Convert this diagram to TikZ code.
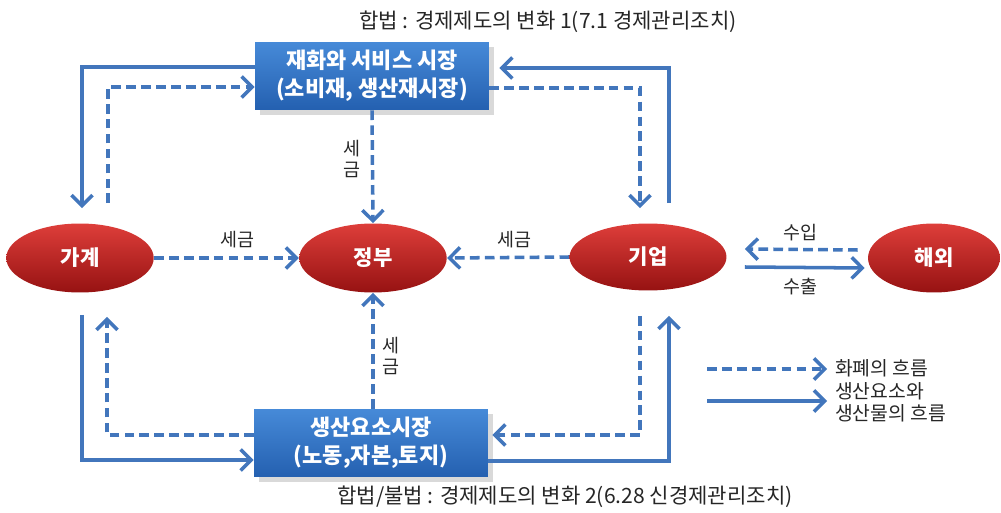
\documentclass[tikz,border=0pt]{standalone}
\usepackage{fontspec}
\setmainfont{Noto Sans CJK KR}
\usepackage{tikz}
\usetikzlibrary{positioning, calc}
\usetikzlibrary{arrows.meta, shadows, shapes.geometric}

\definecolor{flowblue}{RGB}{66,118,188}
\definecolor{boxtop}{RGB}{70,138,216}
\definecolor{boxbot}{RGB}{36,96,176}
\definecolor{redtop}{RGB}{222,62,58}
\definecolor{redmid}{RGB}{200,34,34}
\definecolor{redbot}{RGB}{150,18,18}

\begin{document}
\begin{tikzpicture}[x=0.02cm, y=-0.02cm,
    market/.style={rectangle, minimum width=4.68cm, minimum height=1.36cm,
        top color=boxtop, bottom color=boxbot, draw=none, text=white, align=center,
        font=\fontsize{12.5}{16}\selectfont\bfseries, drop shadow={opacity=0.3}},
    agent/.style={ellipse, minimum width=2.95cm, minimum height=1.38cm,
        top color=redtop, middle color=redmid, bottom color=redbot, draw=none,
        text=white, font=\fontsize{12}{14}\selectfont\bfseries},
    flow/.style={draw=flowblue, line width=2pt, -{Straight Barb[length=6pt,width=12pt]}},
    money/.style={flow, dash pattern=on 5.5pt off 3pt},
    lbl/.style={font=\fontsize{10.5}{11.5}\selectfont, align=center, text=black!85}]
    \useasboundingbox (0,0) rectangle (1001,513);

    \node[market] (goods) at (372,76) {재화와 서비스 시장\\(소비재, 생산재시장)};
    \node[market] (factor) at (371,443) {생산요소시장\\(노동,자본,토지)};
    \node[agent] (house) at (80,258) {가계};
    \node[agent] (gov) at (373,258) {정부};
    \node[agent, minimum width=3.14cm, minimum height=1.34cm] (firm) at (648,257) {기업};
    \node[agent, minimum width=2.64cm] (abroad) at (934,258) {해외};

    % goods market and households / firms
    \draw[flow] ($(goods.west)+(0,-9)$) -| ($(house.north)+(2,-15)$);
    \draw[money] ($(house.north)+(28,-20)$) |- ($(goods.west)+(0,11)$);
    \draw[flow] ($(firm.north)+(21,-20)$) |- ($(goods.east)+(10,-8)$);
    \draw[money] ($(goods.east)+(0,12)$) -| ($(firm.north)+(-8,-15)$);

    % factor market
    \draw[flow] ($(house.south)+(2,22)$) |- ($(factor.west)+(0,17)$);
    \draw[money] ($(factor.west)+(0,-8)$) -| ($(house.south)+(27,24)$);
    \draw[money] ($(firm.south)+(-8,25)$) |- ($(factor.east)+(4,-8)$);
    \draw[flow] ($(factor.east)+(0,18)$) -| ($(firm.south)+(21,25)$);

    % taxes
    \draw[money] (goods.south) -- (gov.north);
    \draw[money] (factor.north -| gov) -- (gov.south);
    \draw[money] (house.east) -- (gov.west);
    \draw[money] (firm.west) -- (gov.east);

    % abroad
    \draw[money] ($(abroad.west)+(-10,-8)$) -- ($(firm.east)+(18,-8)$);
    \draw[flow] ($(firm.east)+(18,10)$) -- ($(abroad.west)+(-3,10)$);

    \node[lbl] (tax1) at (237,240) {세금};
    \node[lbl] (tax2) at (514,240) {세금};
    \node[lbl] (tax3) at (352,159) {세\\금};
    \node[lbl] (tax4) at (391,356) {세\\금};
    \node[lbl] (imp) at (800,233) {수입};
    \node[lbl] (exp) at (800,287) {수출};

    % legend
    \coordinate (lga) at (707,369);
    \coordinate (lgb) at (827,369);
    \coordinate (lgc) at (707,401);
    \coordinate (lgd) at (827,401);
    \draw[money] (lga) -- (lgb);
    \draw[flow] (lgc) -- (lgd);
    \node[lbl, anchor=west, font=\fontsize{11}{12.5}\selectfont] (lgm) at (829,368) {화폐의 흐름};
    \node[lbl, anchor=west, align=left, font=\fontsize{11}{12.5}\selectfont] (lgf) at (829,402) {생산요소와\\생산물의 흐름};

    % captions
    \node[lbl, font=\fontsize{12}{14}\selectfont] (cap1) at (548,22) {합법 : 경제제도의 변화 1(7.1 경제관리조치)};
    \node[lbl, font=\fontsize{12}{14}\selectfont] (cap2) at (565,497) {합법/불법 : 경제제도의 변화 2(6.28 신경제관리조치)};
\end{tikzpicture}
\end{document}
